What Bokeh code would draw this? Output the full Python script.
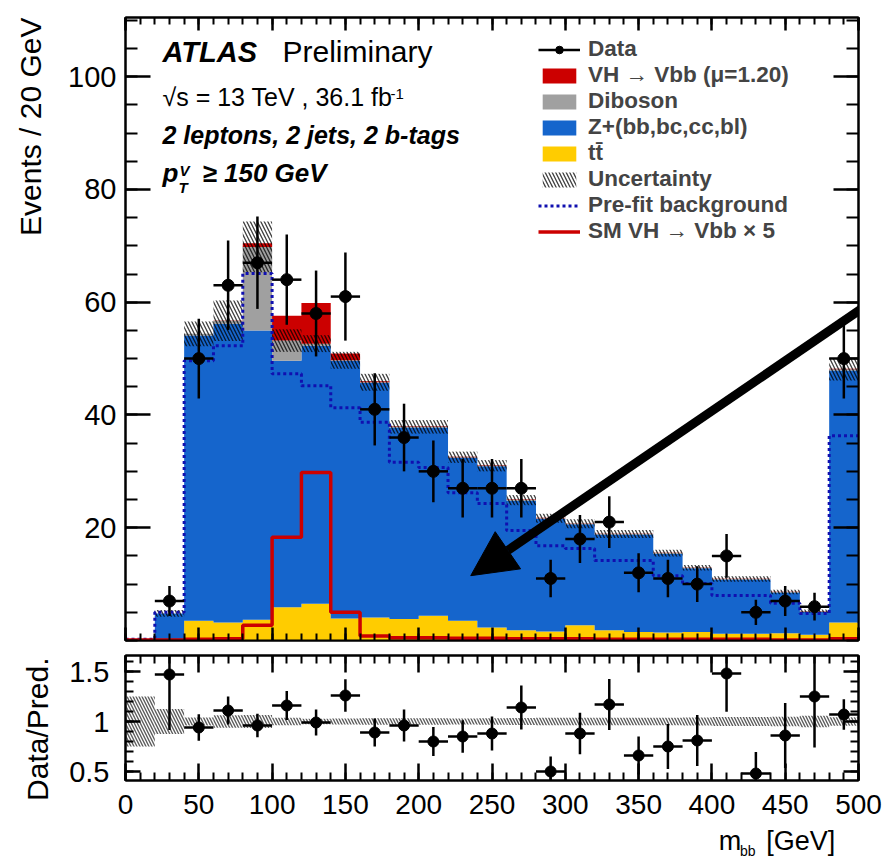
import math
from bokeh.plotting import figure
from bokeh.layouts import column, row
from bokeh.models import (ColumnDataSource, FixedTicker, LinearAxis, Range1d, Label,
                          Legend, LegendItem, Arrow, NormalHead)
from bokeh.embed import file_html
from bokeh.resources import INLINE

# ---------------- data ----------------
bin_edges = [0, 20, 40, 60, 80, 100, 120, 140, 160, 180, 200, 220, 240, 260,
             280, 300, 320, 340, 360, 380, 400, 420, 440, 460, 480, 500]
data_counts = [0, 7, 50, 63, 67, 64, 58, 61, 41, 36, 30, 27, 27, 27, 11, 18, 21,
               12, 11, 10, 15, 5, 7, 6, 50]
ttbar = [0.0, 0.2, 3.5, 3.2, 3.7, 5.9, 6.5, 3.9, 4.1, 3.8, 4.4, 3.5, 2.3, 1.8,
         1.6, 2.7, 1.8, 1.5, 1.4, 1.5, 1.2, 1.2, 1.3, 1.0, 3.2]
zjets = [0.2, 4.6, 50.6, 53.0, 51.3, 43.7, 45.8, 45.7, 41.6, 34.0, 33.4, 28.9,
         28.6, 23.0, 20.0, 17.9, 17.0, 17.3, 14.0, 11.3, 9.6, 9.6, 7.2, 4.1, 44.7]
diboson = [0.0, 0.0, 0.3, 0.5, 14.8, 3.6, 0.35, 0.1, 0.1, 0.1, 0.1, 0.1, 0.1,
           0.1, 0.1, 0.1, 0.1, 0.1, 0.1, 0.1, 0.1, 0.1, 0.1, 0.1, 0.2]
vh_fit = [0.0, 0.0, 0.0, 0.05, 0.65, 4.4, 7.2, 1.2, 0.2, 0.1, 0.1, 0.1, 0.1,
          0.1, 0.05, 0.05, 0.05, 0.05, 0.05, 0.05, 0.05, 0.05, 0.03, 0.03, 0.1]
sm_vh_x5 = [0.1, 0.1, 0.2, 0.3, 2.7, 18.3, 29.8, 5.0, 0.8, 0.5, 0.5, 0.4, 0.4,
            0.3, 0.3, 0.3, 0.2, 0.2, 0.2, 0.2, 0.2, 0.2, 0.1, 0.1, 0.3]
prefit_bkg = [0.2, 5.0, 49.6, 52.3, 65.1, 47.3, 45.2, 41.3, 38.7, 31.6, 30.7,
              26.2, 24.3, 19.5, 16.8, 16.3, 14.2, 14.2, 11.5, 10.1, 8.0, 8.0,
              6.6, 4.8, 36.3]
bkg_unc = [0.05, 0.6, 2.2, 3.6, 4.5, 2.0, 1.5, 1.5, 1.5, 1.2, 1.2, 1.0, 1.0,
           0.9, 0.8, 0.8, 0.7, 0.7, 0.6, 0.5, 0.5, 0.5, 0.4, 0.3, 2.0]
ratio_vals = [None, 1.47, 0.94, 1.11, 0.96, 1.16, 0.99, 1.26, 0.89, 0.96, 0.80,
              0.85, 0.88, 1.14, 0.50, 0.88, 1.17, 0.66, 0.75, 0.81, 1.48, 0.48,
              0.86, 1.25, 1.07]

x_major = [0, 50, 100, 150, 200, 250, 300, 350, 400, 450, 500]
x_minor = [10 * i for i in range(51)]
y_major_main = [20, 40, 60, 80, 100]
y_minor_main = [5 * i for i in range(23)]
y_major_ratio = [0.5, 1, 1.5]
y_minor_ratio = [round(0.4 + 0.1 * i, 2) for i in range(13)]

FONT = "Liberation Sans"
C_VH = "#cc0000"
C_DB = "#a0a0a0"
C_Z = "#1565cc"
C_TT = "#ffcc00"
C_PRE = "#1010b0"

# ---------------- derived quantities ----------------
lefts = bin_edges[:-1]
rights = bin_edges[1:]
centers = [(a + b) / 2 for a, b in zip(lefts, rights)]
n = len(lefts)
s1 = [ttbar[i] for i in range(n)]
s2 = [s1[i] + zjets[i] for i in range(n)]
s3 = [s2[i] + diboson[i] for i in range(n)]
s4 = [s3[i] + vh_fit[i] for i in range(n)]
bkg = s3


def ext(a):
    return list(a) + [a[-1]]


# ---------------- main figure ----------------
p = figure(width=823, height=645, x_range=Range1d(0, 500), y_range=Range1d(0, 110.5),
           output_backend="svg", toolbar_location=None,
           min_border_left=65, min_border_right=25, min_border_top=17, min_border_bottom=5)
p.grid.visible = False
p.outline_line_color = "black"
p.outline_line_width = 2
p.background_fill_color = "white"
p.border_fill_color = "white"

stk = ColumnDataSource(dict(x=bin_edges, zero=[0] * (n + 1), s1=ext(s1), s2=ext(s2),
                            s3=ext(s3), s4=ext(s4)))
r_tt = p.varea_step(x="x", y1="zero", y2="s1", source=stk, step_mode="after", fill_color=C_TT)
r_z = p.varea_step(x="x", y1="s1", y2="s2", source=stk, step_mode="after", fill_color=C_Z)
r_db = p.varea_step(x="x", y1="s2", y2="s3", source=stk, step_mode="after", fill_color=C_DB)
r_vh = p.varea_step(x="x", y1="s3", y2="s4", source=stk, step_mode="after", fill_color=C_VH)

src = ColumnDataSource(dict(left=lefts, right=rights,
                            ulo=[bkg[i] - bkg_unc[i] for i in range(n)],
                            uhi=[bkg[i] + bkg_unc[i] for i in range(n)]))
r_unc = p.quad(left="left", right="right", bottom="ulo", top="uhi", source=src,
               fill_alpha=0, line_color=None, hatch_pattern="\\", hatch_color="black",
               hatch_alpha=0.75, hatch_scale=7, hatch_weight=1.3)

r_pre = p.step(x=bin_edges, y=ext(prefit_bkg), mode="after",
               line_color=C_PRE, line_width=3, line_dash="3 3")
r_sm = p.step(x=bin_edges, y=ext(sm_vh_x5), mode="after",
              line_color=C_VH, line_width=3.5)

dx, dy, dl, dr, dlo, dhi = [], [], [], [], [], []
for i in range(n):
    if data_counts[i] > 0:
        e = math.sqrt(data_counts[i])
        dx.append(centers[i]); dy.append(data_counts[i])
        dl.append(lefts[i]); dr.append(rights[i])
        dlo.append(data_counts[i] - e); dhi.append(data_counts[i] + e)
dsrc = ColumnDataSource(dict(x=dx, y=dy, l=dl, r=dr, lo=dlo, hi=dhi))
p.segment(x0="x", x1="x", y0="lo", y1="hi", source=dsrc, line_color="black", line_width=2.5)
r_dx = p.segment(x0="l", x1="r", y0="y", y1="y", source=dsrc, line_color="black", line_width=2.5)
r_dp = p.scatter(x="x", y="y", source=dsrc, size=12, fill_color="black", line_color="black")


def style_axis(ax, major_in, minor_in, labels, standoff=8, size="28px"):
    ax.major_tick_in = major_in
    ax.major_tick_out = 0
    ax.minor_tick_in = minor_in
    ax.minor_tick_out = 0
    ax.major_tick_line_width = 2.5
    ax.minor_tick_line_width = 2
    ax.major_tick_line_color = "black"
    ax.minor_tick_line_color = "black"
    ax.axis_line_color = "black"
    ax.axis_line_width = 2
    if labels:
        ax.major_label_text_font = FONT
        ax.major_label_text_font_size = size
        ax.major_label_text_color = "black"
        ax.major_label_standoff = standoff
    else:
        ax.major_label_text_font_size = "0px"
        ax.major_label_text_color = None
        ax.major_label_standoff = 0


p.xaxis.ticker = FixedTicker(ticks=x_major, minor_ticks=x_minor)
p.yaxis.ticker = FixedTicker(ticks=y_major_main, minor_ticks=y_minor_main)
style_axis(p.xaxis[0], 13, 7, False)
style_axis(p.yaxis[0], 25, 12, True, standoff=9, size="29px")
ax_top = LinearAxis(ticker=FixedTicker(ticks=x_major, minor_ticks=x_minor))
style_axis(ax_top, 13, 7, False)
p.add_layout(ax_top, "above")
ax_right = LinearAxis(ticker=FixedTicker(ticks=y_major_main, minor_ticks=y_minor_main))
style_axis(ax_right, 25, 12, False)
p.add_layout(ax_right, "right")

legend = Legend(items=[
    LegendItem(label="Data", renderers=[r_dx, r_dp]),
    LegendItem(label="VH \u2192 Vbb (\u03bc=1.20)", renderers=[r_vh]),
    LegendItem(label="Diboson", renderers=[r_db]),
    LegendItem(label="Z+(bb,bc,cc,bl)", renderers=[r_z]),
    LegendItem(label="tt\u0304", renderers=[r_tt]),
    LegendItem(label="Uncertainty", renderers=[r_unc]),
    LegendItem(label="Pre-fit background", renderers=[r_pre]),
    LegendItem(label="SM VH \u2192 Vbb \u00d7 5", renderers=[r_sm]),
], location=(413, 396), label_text_font=FONT, label_text_font_style="bold",
    label_text_font_size="22.5px", glyph_width=42, glyph_height=19, label_standoff=8,
    padding=0, spacing=0, label_height=26, border_line_color=None,
    background_fill_alpha=0, margin=0)
p.add_layout(legend)


def lab(fig, x, y, text, size, style="normal", units="screen", **kw):
    fig.add_layout(Label(x=x, y=y, x_units=units, y_units=units, text=text,
                         text_font=FONT, text_font_size=size, text_font_style=style,
                         text_color="black", **kw))


lab(p, 37, 573, "ATLAS", "29px", "bold italic")
lab(p, 157, 573, "Preliminary", "30px")
lab(p, 37, 530, "\u221as = 13 TeV , 36.1 fb", "25px")
lab(p, 265, 542, "-1", "15px")
lab(p, 37, 492, "2 leptons, 2 jets, 2 b-tags", "25px", "bold italic")
lab(p, 37, 453, "p", "26px", "bold italic")
lab(p, 54, 462, "V", "15px", "bold italic")
lab(p, 53, 445, "T", "15px", "bold italic")
lab(p, 77, 453, "\u2265 150 GeV", "26px", "bold italic")

p.add_layout(Arrow(end=NormalHead(size=45, fill_color="black", line_color="black"),
                   x_start=517, y_start=61.5, x_end=235.5, y_end=11.5,
                   line_width=9, line_color="black"))

# ---------------- ratio figure ----------------
r = figure(width=823, height=182, x_range=p.x_range, y_range=Range1d(0.41, 1.66),
           output_backend="svg", toolbar_location=None,
           min_border_left=65, min_border_right=25, min_border_top=10, min_border_bottom=47)
r.grid.visible = False
r.outline_line_color = "black"
r.outline_line_width = 2
r.background_fill_color = "white"
r.border_fill_color = "white"

rb = ColumnDataSource(dict(left=lefts, right=rights,
                           lo=[1 - bkg_unc[i] / bkg[i] for i in range(n)],
                           hi=[1 + bkg_unc[i] / bkg[i] for i in range(n)]))
r.quad(left="left", right="right", bottom="lo", top="hi", source=rb, fill_alpha=0,
       line_color=None, hatch_pattern="\\", hatch_color="#333333", hatch_alpha=0.8,
       hatch_scale=6, hatch_weight=1.4)

rx, ry, rl, rr, rlo, rhi = [], [], [], [], [], []
for i in range(n):
    if ratio_vals[i] is not None and data_counts[i] > 0:
        e = ratio_vals[i] / math.sqrt(data_counts[i])
        rx.append(centers[i]); ry.append(ratio_vals[i])
        rl.append(lefts[i]); rr.append(rights[i])
        rlo.append(ratio_vals[i] - e); rhi.append(ratio_vals[i] + e)
rsrc = ColumnDataSource(dict(x=rx, y=ry, l=rl, r=rr, lo=rlo, hi=rhi))
r.segment(x0="x", x1="x", y0="lo", y1="hi", source=rsrc, line_color="black", line_width=2.5)
r.segment(x0="l", x1="r", y0="y", y1="y", source=rsrc, line_color="black", line_width=2.5)
r.scatter(x="x", y="y", source=rsrc, size=11, fill_color="black", line_color="black")

r.xaxis.ticker = FixedTicker(ticks=x_major, minor_ticks=x_minor)
r.yaxis.ticker = FixedTicker(ticks=y_major_ratio, minor_ticks=y_minor_ratio)
style_axis(r.xaxis[0], 17, 8, True, standoff=14, size="28px")
style_axis(r.yaxis[0], 15, 8, True, standoff=16, size="29px")
r.yaxis.major_label_overrides = {0.5: "0.5", 1: "1", 1.5: "1.5"}
rt = LinearAxis(ticker=FixedTicker(ticks=x_major, minor_ticks=x_minor))
style_axis(rt, 17, 8, False)
r.add_layout(rt, "above")
rr_ax = LinearAxis(ticker=FixedTicker(ticks=y_major_ratio, minor_ticks=y_minor_ratio))
style_axis(rr_ax, 15, 8, False)
r.add_layout(rr_ax, "right")


# ---------------- text strips (axis titles) ----------------
def strip(w, h):
    f = figure(width=w, height=h, x_range=Range1d(0, w), y_range=Range1d(0, h),
               output_backend="svg", toolbar_location=None, min_border=0,
               x_axis_location=None, y_axis_location=None)
    f.grid.visible = False
    f.outline_line_color = None
    f.background_fill_color = "white"
    f.border_fill_color = "white"
    return f


left_strip = strip(60, 861)
lab(left_strip, 30, 844, "Events / 20 GeV", "30px", units="data", angle=math.pi / 2,
    text_align="right", text_baseline="middle")
lab(left_strip, 37, 204, "Data/Pred.", "30px", units="data", angle=math.pi / 2,
    text_align="right", text_baseline="middle")

bottom_strip = strip(823, 34)
lab(bottom_strip, 797, 6, "[GeV]", "27px", units="data", text_align="right")
lab(bottom_strip, 666, 6, "m", "27px", units="data")
lab(bottom_strip, 690, 3, "bb", "14px", units="data")

layout = row(left_strip, column(p, r, bottom_strip, spacing=0), spacing=0)
open("out.html", "w").write(file_html(layout, INLINE))
